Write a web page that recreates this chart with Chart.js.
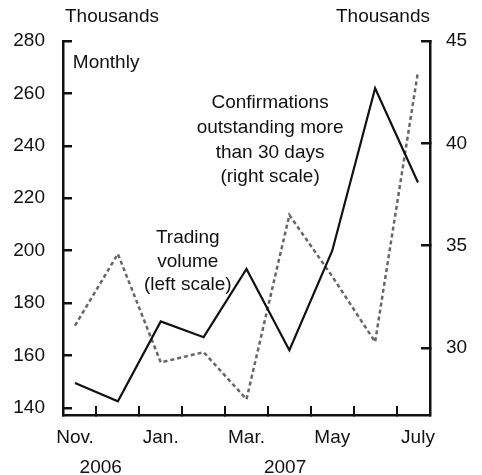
<!DOCTYPE html>
<html>
<head>
<meta charset="utf-8">
<script src="https://cdn.jsdelivr.net/npm/chart.js@4"></script>
<style>
  html, body { margin: 0; padding: 0; background: #fff; }
  #wrap { width: 482px; height: 475px; }
</style>
</head>
<body>
<div id="wrap"><canvas id="myChart" width="482" height="475"></canvas></div>
<script>
// monthly, Nov. 2006 - July 2007
var meses = ['Nov.', 'Dec.', 'Jan.', 'Feb.', 'Mar.', 'Apr.', 'May', 'June', 'July']
var rotulosMes = ['Nov.', '', 'Jan.', '', 'Mar.', '', 'May', '', 'July']
var anos = ['2006', '2007']
var posAnos = [0.6, 4.9]

// thousands
var volume = [149.5, 142.5, 173, 167, 193, 162, 200, 262, 226]
var confirmacoes = [31.1, 34.6, 29.3, 29.8, 27.5, 36.5, 33.5, 30.3, 43.5]

var ticksEsq = [140, 160, 180, 200, 220, 240, 260, 280]
var ticksDir = [30, 35, 40, 45]

const fonte = { family: "'Liberation Sans', Arial, sans-serif", size: 19 }
const preto = '#111'

const pontos = arr => arr.map((v, i) => ({ x: i, y: v }))

const data = {
    datasets: [{
        label: 'Trading volume (left scale)',
        data: pontos(volume),
        yAxisID: 'y',
        borderColor: preto,
        borderWidth: 2.2,
        pointRadius: 0,
        tension: 0
    }, {
        label: 'Confirmations outstanding more than 30 days (right scale)',
        data: pontos(confirmacoes),
        yAxisID: 'y1',
        borderColor: '#666',
        borderWidth: 2.5,
        borderDash: [4, 3],
        pointRadius: 0,
        tension: 0
    }]
}

// inward tick marks everywhere, like the original
const gradeTick = (len) => ({
    drawOnChartArea: false,
    drawTicks: true,
    tickLength: len,
    color: preto,
    lineWidth: 2.5
})

const opcoes = {
    responsive: false,
    animation: false,
    layout: { padding: { top: 41, left: 0, right: 0, bottom: 0 } },
    plugins: { legend: { display: false }, tooltip: { enabled: false } },
    scales: {
        x: {
            type: 'linear', position: 'bottom', weight: 0,
            min: -0.28, max: 8.28,
            afterBuildTicks: s => {
                var t = []
                for (var v = 0; v <= 8; v += 0.5) t.push({ value: v })
                s.ticks = t
            },
            afterFit: s => { s.height = 35 },
            ticks: {
                autoSkip: false, maxRotation: 0, color: preto, font: fonte, padding: 20,
                callback: v => (v % 1 === 0 ? rotulosMes[v] : '')
            },
            grid: Object.assign(gradeTick(-9), {
                color: ctx => (ctx.tick && ctx.tick.value % 1 !== 0 ? preto : 'rgba(0,0,0,0)'),
                lineWidth: 2
            }),
            border: { color: preto, width: 2.5 }
        },
        anos: {
            type: 'linear', position: 'bottom', weight: 1,
            min: -0.28, max: 8.28,
            afterBuildTicks: s => { s.ticks = posAnos.map(v => ({ value: v })) },
            afterFit: s => { s.height = 25 },
            ticks: {
                autoSkip: false, maxRotation: 0, color: preto, font: fonte, padding: -2,
                callback: (v, i) => anos[i]
            },
            grid: { display: false },
            border: { display: false }
        },
        y: {
            type: 'linear', position: 'left',
            min: 137.3, max: 280,
            afterBuildTicks: s => { s.ticks = ticksEsq.map(v => ({ value: v })) },
            afterFit: s => { s.width = 63 },
            ticks: { color: preto, font: fonte, padding: 27 },
            grid: gradeTick(-9),
            border: { color: preto, width: 2.5 }
        },
        y1: {
            type: 'linear', position: 'right',
            min: 26.73, max: 45,
            afterBuildTicks: s => { s.ticks = ticksDir.map(v => ({ value: v })) },
            afterFit: s => { s.width = 52 },
            ticks: { color: preto, font: fonte, padding: 25 },
            grid: gradeTick(-9),
            border: { color: preto, width: 2.5 }
        }
    }
}

// texts written on the chart
const notas = {
    id: 'notas',
    afterDraw(chart) {
        const c = chart.ctx
        const a = chart.chartArea
        const sx = chart.scales.x
        const sy = chart.scales.y
        c.save()
        c.fillStyle = preto
        c.font = fonte.size + 'px ' + fonte.family
        c.textBaseline = 'middle'
        c.textAlign = 'center'
        c.fillText('Thousands', a.left + 49, 17)
        c.fillText('Thousands', a.right - 47, 17)
        c.textAlign = 'left'
        c.fillText('Monthly', sx.getPixelForValue(-0.05), sy.getPixelForValue(271.6))
        c.textAlign = 'center'
        var conf = ['Confirmations', 'outstanding more', 'than 30 days', '(right scale)']
        conf.forEach((t, i) => c.fillText(t, sx.getPixelForValue(4.55), 103 + i * 24.7))
        var vol = ['Trading', 'volume', '(left scale)']
        vol.forEach((t, i) => c.fillText(t, sx.getPixelForValue(2.63), 238 + i * 23.5))
        c.restore()
    }
}

const config = {
    type: 'line',
    data: data,
    options: opcoes,
    plugins: [notas]
}

const grafico = new Chart(document.getElementById('myChart'), config)
</script>
</body>
</html>
